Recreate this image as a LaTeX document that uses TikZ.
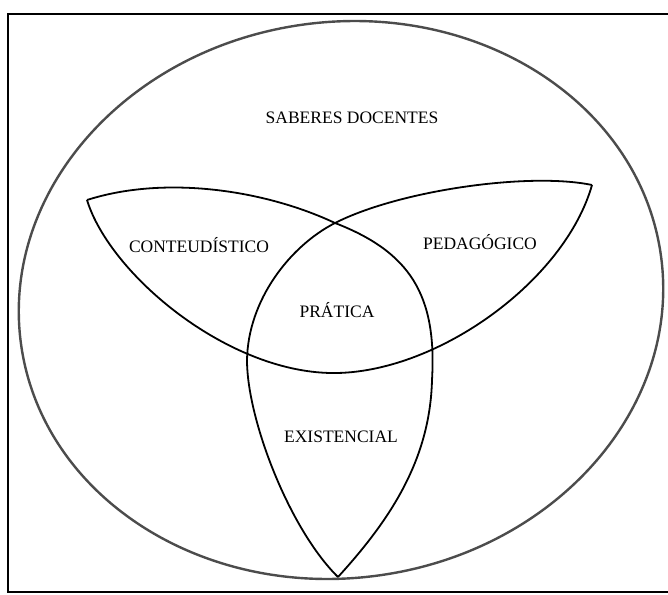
\documentclass[tikz,border=0pt]{standalone}
\usepackage{fontspec}
\setmainfont{Liberation Serif}
\begin{document}
\begin{tikzpicture}[x=1pt,y=-1pt,
  lens/.style={line width=1.8pt, black, line join=round},
  outer/.style={line width=2.4pt, black!70},
  frame/.style={line width=1.1pt, black},
  lbl/.style={font=\fontsize{17.5}{20}\selectfont, inner sep=0pt}]
\useasboundingbox (0,0) rectangle (668,594);
% frame
\draw[frame] (668,14) -- (8,14) -- (8,592) -- (668,592);
% outer ellipse
\coordinate (c) at (341,300);
\draw[outer, rotate around={8:(c)}] (c) ellipse (323pt and 278pt);
% tips and crossing
\coordinate (L) at (87,200);
\coordinate (R) at (592,185);
\coordinate (B) at (338,577);
\coordinate (X) at (335,223);
\coordinate (Rs) at (432,380);
\coordinate (Ls) at (247,360);
\coordinate (M) at (337,373);
% curve 1: L -> X -> right side of bottom petal -> B
\draw[lens] (L) .. controls (165,175) and (265,190) .. (X)
  .. controls (410,252) and (437,295) .. (Rs)
  .. controls (430,460) and (390,520) .. (B);
% curve 2: R -> X -> left side of bottom petal -> B
\draw[lens] (R) .. controls (530,172) and (400,190) .. (X)
  .. controls (290,246) and (248,300) .. (Ls)
  .. controls (247,420) and (290,530) .. (B);
% curve 3: L -> bottom arc -> R
\draw[lens] (L) .. controls (110,275) and (230,375) .. (M)
  .. controls (440,371) and (565,280) .. (R);
% labels
\node[lbl] (saberes) at (352,118) {SABERES DOCENTES};
\node[lbl] (cont) at (199,245) {CONTEUDÍSTICO};
\node[lbl] (ped) at (480,242) {PEDAGÓGICO};
\node[lbl] (prat) at (337,310) {PRÁTICA};
\node[lbl] (exist) at (341,437) {EXISTENCIAL};
\end{tikzpicture}
\end{document}
